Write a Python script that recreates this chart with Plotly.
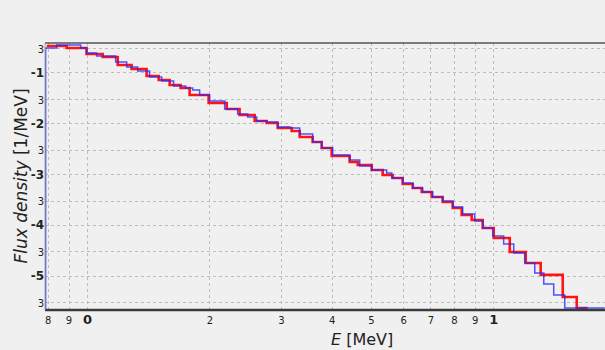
import plotly.graph_objects as go

# Red spectrum: bin edges [MeV] and flux density values [1/MeV]
red_edges = [0.0793, 0.0888, 0.0994, 0.1089, 0.1186, 0.1283, 0.1397, 0.1496, 0.1592,
             0.1694, 0.1783, 0.1986, 0.2200, 0.2367, 0.2578, 0.2760, 0.2938, 0.3180,
             0.3328, 0.3582, 0.3770, 0.3990, 0.4418, 0.4624, 0.5006, 0.5328, 0.5639,
             0.5968, 0.6318, 0.6648, 0.7036, 0.7487, 0.7925, 0.8340, 0.8826, 0.9395,
             1.0, 1.095, 1.199, 1.305, 1.479, 1.601, 1.704]
red_vals = [0.340, 0.311, 0.237, 0.207, 0.144, 0.120, 0.0873, 0.0728, 0.0580,
            0.0506, 0.0369, 0.0257, 0.0195, 0.01486, 0.01132, 0.01035, 0.00824, 0.00719,
            0.00548, 0.00437, 0.00333, 0.00232, 0.00176, 0.00154, 0.00123, 0.000977, 0.000853,
            0.000650, 0.000542, 0.000452, 0.000360, 0.000287, 0.000219, 0.000159, 0.000127, 0.0000883,
            0.0000561, 0.0000297, 0.0000180, 0.0000105, 3.86e-6, 2.34e-6]

# Blue spectrum
blue_edges = [0.0788, 0.0839, 0.0961, 0.0994, 0.1052, 0.1172, 0.1248, 0.1328, 0.1421,
              0.1522, 0.1628, 0.1743, 0.1814, 0.1887, 0.1998, 0.2175, 0.2341, 0.2478,
              0.2608, 0.2760, 0.2938, 0.3144, 0.3328, 0.3582, 0.3770, 0.4013, 0.4418,
              0.4677, 0.5006, 0.5450, 0.5608, 0.5968, 0.6318, 0.6686, 0.7076, 0.7487,
              0.7925, 0.8385, 0.8978, 0.9395, 0.9943, 1.058, 1.120, 1.192, 1.262,
              1.328, 1.405, 1.496, 1.877]
blue_vals = [0.311, 0.356, 0.311, 0.248, 0.216, 0.165, 0.131, 0.109, 0.0834,
             0.0695, 0.0554, 0.0506, 0.0462, 0.0369, 0.0281, 0.0195, 0.01556, 0.01359,
             0.01132, 0.01082, 0.00863, 0.00824, 0.00628, 0.00437, 0.00333, 0.00242, 0.00193,
             0.00147, 0.00123, 0.00107, 0.000853, 0.000681, 0.000542, 0.000452, 0.000360, 0.000301,
             0.000229, 0.000167, 0.000121, 0.0000883, 0.0000614, 0.0000428, 0.0000284, 0.0000180,
             0.0000115, 6.95e-6, 4.22e-6, 2.34e-6]
blue_floor = 1e-7

x_tickvals = [0.08, 0.09, 0.1, 0.2, 0.3, 0.4, 0.5, 0.6, 0.7, 0.8, 0.9, 1.0]
x_ticklabels = ["8", "9", "0", "2", "3", "4", "5", "6", "7", "8", "9", "1"]
x_major = ["0", "1"]
y_tickvals = [0.3, 0.1, 0.03, 0.01, 0.003, 0.001, 3e-4, 1e-4, 3e-5, 1e-5, 3e-6]
y_ticklabels = ["3", "-1", "3", "-2", "3", "-3", "3", "-4", "3", "-5", "3"]
y_major = ["-1", "-2", "-3", "-4", "-5"]


def fmt(lbl, majors):
    if lbl in majors:
        return "<b>" + lbl + "</b>"
    return "<span style='font-size:10px'>" + lbl + "</span>"


BG = "#f0f0f0"
fig = go.Figure()

fig.add_trace(go.Scatter(
    x=red_edges, y=red_vals + [red_vals[-1]], mode="lines", line_shape="hv",
    line=dict(color="rgb(255,20,20)", width=2.6), hoverinfo="skip", showlegend=False))
fig.add_trace(go.Scatter(
    x=[blue_edges[0]] + blue_edges, y=[blue_floor] + blue_vals + [blue_vals[-1]],
    mode="lines", line_shape="hv",
    line=dict(color="rgba(40,40,255,0.8)", width=1.5), hoverinfo="skip", showlegend=False))

fig.update_layout(
    width=605, height=350,
    margin=dict(l=45, r=0, t=43, b=40),
    paper_bgcolor=BG, plot_bgcolor=BG,
    font=dict(family="DejaVu Sans", size=12, color="#222"),
    xaxis=dict(type="log", range=[-1.105, 0.274],
               tickvals=x_tickvals, ticktext=[fmt(t, x_major) for t in x_ticklabels],
               tickfont=dict(size=13, color="#222"),
               showgrid=True, gridcolor="#bdbdbd", griddash="dot", gridwidth=1,
               zeroline=False, showline=False, ticks=""),
    yaxis=dict(type="log", range=[-5.670, -0.409],
               tickvals=y_tickvals, ticktext=[fmt(t, y_major) for t in y_ticklabels],
               tickfont=dict(size=12, color="#222"),
               showgrid=True, gridcolor="#bdbdbd", griddash="dot", gridwidth=1,
               zeroline=False, showline=False, ticks=""),
    shapes=[
        dict(type="line", xref="paper", yref="paper", x0=0, x1=1, y0=0, y1=0,
             line=dict(color="#3a3a3a", width=2.5)),
        dict(type="line", xref="paper", yref="paper", x0=0, x1=1, y0=1, y1=1,
             line=dict(color="#555555", width=1.5)),
        dict(type="line", xref="paper", yref="paper", x0=0, x1=0, y0=0, y1=1,
             line=dict(color="#a0a0a0", width=1)),
    ],
    annotations=[
        dict(text="<i>Flux density</i> [1/MeV]", xref="paper", yref="paper",
             x=(20 - 45) / 560, y=0.5, xanchor="center", yanchor="middle", textangle=-90,
             showarrow=False, font=dict(size=17, color="#222")),
        dict(text="<i>E</i> [MeV]", xref="paper", yref="paper",
             x=(362 - 45) / 560, y=-0.11, xanchor="center", yanchor="middle",
             showarrow=False, font=dict(size=16, color="#222")),
    ],
)

fig.write_html("out.html", config={"displayModeBar": False},
               post_script="document.body.style.margin='0px';document.body.style.background='#f0f0f0';")
